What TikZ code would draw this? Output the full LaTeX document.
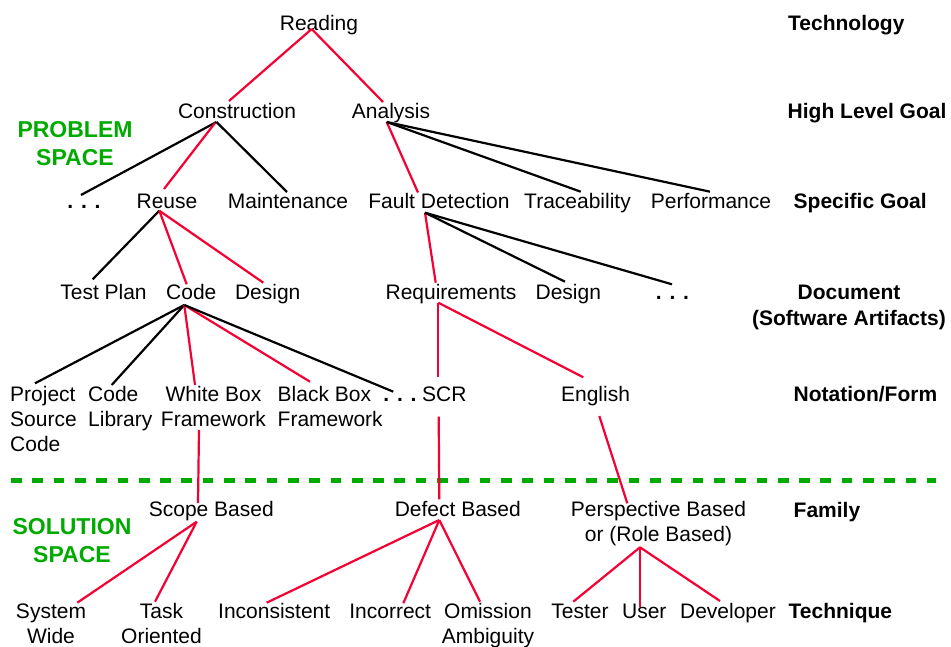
\documentclass[tikz,border=0pt]{standalone}
\usepackage{fontspec}
\setmainfont{Liberation Sans}
\definecolor{myred}{RGB}{245,0,50}
\definecolor{mygreen}{RGB}{0,170,0}
\begin{document}
\begin{tikzpicture}[x=1pt,y=-1pt,
  txt/.style={inner sep=0pt, anchor=base, font=\fontsize{21}{25}\selectfont},
  txtw/.style={txt, anchor=base west},
  lbl/.style={txt, anchor=base west, font=\fontsize{21}{25}\selectfont\bfseries},
  space/.style={inner sep=0pt, anchor=base, text=mygreen, font=\fontsize{23}{28}\selectfont\bfseries},
  conn/.style={line width=2.2pt},
  rl/.style={conn, draw=myred},
  bl/.style={conn, draw=black}]
\useasboundingbox (0,0) rectangle (951,647);

% level labels
\node[lbl] (technology) at (788,31) {Technology};
\node[lbl] (highlevel) at (787.5,119) {High Level Goal};
\node[lbl] (specific) at (793.5,209) {Specific Goal};
\node[txt, font=\fontsize{21}{26}\selectfont\bfseries] (document) at (849,299) {\begin{tabular}[t]{@{}c@{}}Document\\(Software Artifacts)\end{tabular}};
\node[lbl] (notation) at (793.5,401) {Notation/Form};
\node[lbl] (family) at (793.5,517) {Family};
\node[lbl] (technique) at (788.5,618) {Technique};

% spaces
\node[space] (problem) at (75,138) {\begin{tabular}[t]{@{}c@{}}PROBLEM\\SPACE\end{tabular}};
\node[space] (solution) at (72,534) {\begin{tabular}[t]{@{}c@{}}SOLUTION\\SPACE\end{tabular}};

% separator
\draw[mygreen, line width=5pt, dash pattern=on 10.7pt off 10.6pt] (11,480) -- (936,480);

% tree nodes
\node[txt] (reading) at (319,31) {Reading};
\node[txt] (construction) at (237,119) {Construction};
\node[txt] (analysis) at (391,119) {Analysis};
\node[txt, font=\fontsize{21}{25}\selectfont\bfseries] (dotsA) at (84,209) {. . .};
\node[txt] (reuse) at (167,209) {Reuse};
\node[txt] (maint) at (288,209) {Maintenance};
\node[txt] (fault) at (439,209) {Fault Detection};
\node[txt] (trace) at (577.5,209) {Traceability};
\node[txt] (perf) at (711,209) {Performance};
\node[txt] (testplan) at (103.5,299) {Test Plan};
\node[txt] (code) at (191.3,299) {Code};
\node[txt] (design1) at (267.7,299) {Design};
\node[txt] (req) at (451,299) {Requirements};
\node[txt] (design2) at (568.3,299) {Design};
\node[txt, font=\fontsize{21}{25}\selectfont\bfseries] (dotsB) at (672.5,299) {. . .};
\node[txtw] (project) at (10,401) {\begin{tabular}[t]{@{}l@{}}Project\\Source\\Code\end{tabular}};
\node[txtw] (codelib) at (88,401) {\begin{tabular}[t]{@{}l@{}}Code\\Library\end{tabular}};
\node[txt] (whitebox) at (213.5,401) {\begin{tabular}[t]{@{}c@{}}White Box\\Framework\end{tabular}};
\node[txtw] (blackbox) at (277.5,401) {\begin{tabular}[t]{@{}l@{}}Black Box\\Framework\end{tabular}};
\node[txt, font=\fontsize{21}{25}\selectfont\bfseries] (dotsC) at (400,401) {. . .};
\node[txt] (scr) at (444.3,401) {SCR};
\node[txt] (english) at (595.5,401) {English};
\node[txt] (scope) at (211.3,516) {Scope Based};
\node[txt] (defect) at (457.8,516) {Defect Based};
\node[txt] (persp) at (658.5,516) {\begin{tabular}[t]{@{}c@{}}Perspective Based\\or (Role Based)\end{tabular}};
\node[txt] (system) at (51,618) {\begin{tabular}[t]{@{}c@{}}System\\Wide\end{tabular}};
\node[txt] (task) at (161.5,618) {\begin{tabular}[t]{@{}c@{}}Task\\Oriented\end{tabular}};
\node[txt] (incons) at (274.2,618) {Inconsistent};
\node[txt] (incorr) at (390.2,618) {Incorrect};
\node[txt] (omis) at (488,618) {\begin{tabular}[t]{@{}c@{}}Omission\\Ambiguity\end{tabular}};
\node[txt] (tester) at (580,618) {Tester};
\node[txt] (user) at (644.3,618) {User};
\node[txt] (dev) at (728,618) {Developer};

% connectors
\draw[rl] ([shift={(-7.3,-2)}]reading.base) -- ([shift={(-8,-18)}]construction.base);
\draw[rl] ([shift={(-7.3,-2)}]reading.base) -- ([shift={(-8,-17)}]analysis.base);

\draw[bl] ([shift={(-20.5,3)}]construction.base) -- ([shift={(-3,-14)}]dotsA.base);
\draw[rl] ([shift={(-22,4)}]construction.base) -- ([shift={(-3,-20)}]reuse.base);
\draw[bl] ([shift={(-20.5,3)}]construction.base) -- ([shift={(-1,-17)}]maint.base);

\draw[rl] ([shift={(-4.3,3)}]analysis.base) -- ([shift={(-21,-16.5)}]fault.base);
\draw[bl] ([shift={(-4.3,3)}]analysis.base) -- ([shift={(3.2,-17.3)}]trace.base);
\draw[bl] ([shift={(-4.3,3)}]analysis.base) -- ([shift={(-1,-17.3)}]perf.base);

\draw[rl] ([shift={(-14,3.7)}]fault.base) -- ([shift={(-15.3,-16.3)}]req.base);
\draw[bl] ([shift={(-14,3.7)}]fault.base) -- ([shift={(-3.3,-17.3)}]design2.base);
\draw[bl] ([shift={(-14,3.7)}]fault.base) -- ([shift={(-0.5,-14.7)}]dotsB.base);

\draw[bl] ([shift={(-7.7,1.7)}]reuse.base) -- ([shift={(-10.8,-19.7)}]testplan.base);
\draw[rl] ([shift={(-7.7,1.7)}]reuse.base) -- ([shift={(-4.6,-14.7)}]code.base);
\draw[rl] ([shift={(-7.7,1.7)}]reuse.base) -- ([shift={(-4.4,-16.3)}]design1.base);

\draw[bl] ([shift={(-7,6)}]code.base) -- ([shift={(25,-17.7)}]project.base west);
\draw[bl] ([shift={(-7,6)}]code.base) -- ([shift={(23.7,-16)}]codelib.base west);
\draw[rl] ([shift={(-7,6)}]code.base) -- ([shift={(-18.5,-16)}]whitebox.base);
\draw[rl] ([shift={(-7,6)}]code.base) -- ([shift={(32.5,-19.3)}]blackbox.base west);
\draw[bl] ([shift={(-7,6)}]code.base) -- ([shift={(-6.7,-9.3)}]dotsC.base);

\draw[rl] ([shift={(-12.7,3.7)}]req.base) -- ([shift={(-6,-24.3)}]scr.base);
\draw[rl] ([shift={(-12.7,3.7)}]req.base) -- ([shift={(-12.2,-23.7)}]english.base);

\draw[rl] ([shift={(-14.5,29)}]whitebox.base) -- ([shift={(-13.3,-13)}]scope.base);
\draw[rl] ([shift={(-5.6,15.7)}]scr.base) -- ([shift={(-18.5,-16.7)}]defect.base);
\draw[rl] ([shift={(3.8,15)}]english.base) -- ([shift={(-31.2,-12.7)}]persp.base);

\draw[rl] ([shift={(-14.6,5.7)}]scope.base) -- ([shift={(26.3,-15.3)}]system.base);
\draw[rl] ([shift={(-14.6,5.7)}]scope.base) -- ([shift={(-6.5,-16.3)}]task.base);

\draw[rl] ([shift={(-18.5,4)}]defect.base) -- ([shift={(-7.5,-15.3)}]incons.base);
\draw[rl] ([shift={(-18.5,4)}]defect.base) -- ([shift={(13.1,-14.7)}]incorr.base);
\draw[rl] ([shift={(-18.5,4)}]defect.base) -- ([shift={(-8,-16.3)}]omis.base);

\draw[rl] ([shift={(-18.5,31.3)}]persp.base) -- ([shift={(-6.7,-16.3)}]tester.base);
\draw[rl] ([shift={(-18.5,31.3)}]persp.base) -- ([shift={(-4.3,-11.3)}]user.base);
\draw[rl] ([shift={(-18.5,31.3)}]persp.base) -- ([shift={(-8,-17)}]dev.base);
\end{tikzpicture}
\end{document}
